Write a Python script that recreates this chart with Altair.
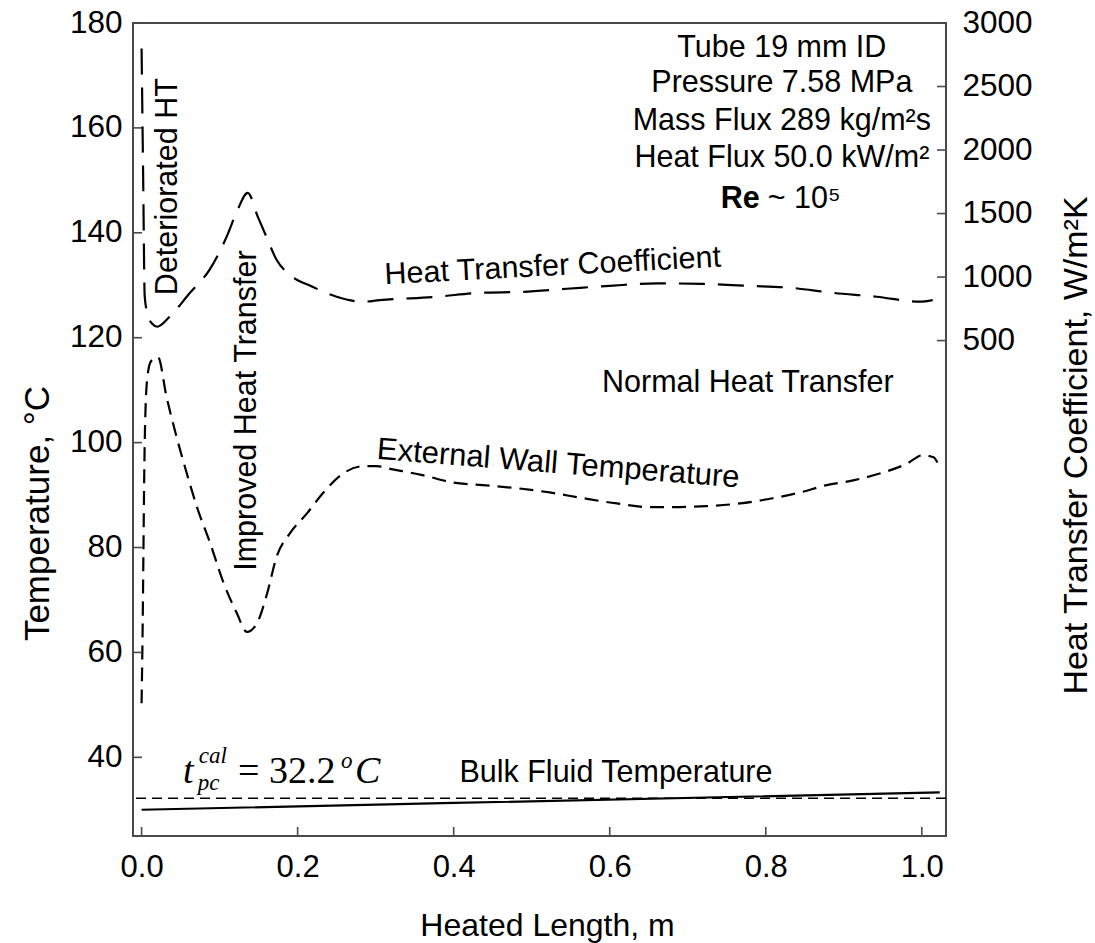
import altair as alt
import pandas as pd

# ---------------- data ----------------
# Heat transfer coefficient, W/m2K
htc_x = [0.000, 0.002, 0.004, 0.008, 0.014, 0.020, 0.036, 0.062, 0.087, 0.109,
         0.123, 0.136, 0.149, 0.160, 0.173, 0.190, 0.219, 0.250, 0.284, 0.305,
         0.378, 0.434, 0.489, 0.545, 0.600, 0.661, 0.719, 0.776, 0.831, 0.886,
         0.942, 0.997, 1.014]
htc_v = [2800, 1800, 850, 700, 630, 609, 688, 876, 1057, 1317,
         1529, 1663, 1474, 1317, 1136, 1018, 924, 845, 806, 818,
         845, 876, 884, 908, 931, 950, 947, 931, 916, 876,
         845, 806, 818]

# External wall temperature, C
wall_x = [0.000, 0.001, 0.004, 0.007, 0.012, 0.021, 0.032, 0.045, 0.058, 0.071,
          0.088, 0.104, 0.122, 0.135, 0.148, 0.161, 0.173, 0.190, 0.212, 0.232,
          0.258, 0.284, 0.301, 0.322, 0.360, 0.399, 0.437, 0.481, 0.523, 0.566,
          0.609, 0.651, 0.681, 0.724, 0.767, 0.809, 0.844, 0.878, 0.912, 0.946,
          0.981, 1.001, 1.015, 1.020]
wall_t = [50.3, 60.4, 99.9, 111.9, 115.5, 116.3, 108.7, 101.0, 94.1, 87.7,
          80.8, 73.7, 67.5, 63.9, 65.6, 71.3, 78.2, 82.7, 86.5, 90.3,
          94.1, 95.5, 95.5, 94.9, 93.8, 92.4, 91.9, 91.3, 90.5, 89.4,
          88.4, 87.7, 87.7, 87.9, 88.4, 89.4, 90.5, 91.9, 92.8, 94.1,
          96.0, 97.6, 97.2, 96.2]

# Bulk fluid temperature, C
bulk_x = [0.0, 0.4, 1.023]
bulk_t = [30.0, 31.3, 33.3]

# Pseudocritical temperature, C
t_pc = [32.2]

x_ticks = [0.0, 0.2, 0.4, 0.6, 0.8, 1.0]
t_ticks = [40, 60, 80, 100, 120, 140, 160, 180]
h_ticks = [500, 1000, 1500, 2000, 2500, 3000]

FONT = "Liberation Sans"
SERIF = "Liberation Serif"
W, H = 813, 813
FRAME = "#4a4a4a"

xscale = alt.Scale(domain=[-0.011, 1.031], nice=False, zero=False)
tscale = alt.Scale(domain=[25, 180], nice=False, zero=False)
hscale = alt.Scale(domain=[-3400, 3000], nice=False, zero=False)

x_axis = alt.Axis(values=x_ticks, format=".1f", tickSize=0, domain=False, grid=False,
                  labelFontSize=31, labelPadding=16, labelFont=FONT, labelColor="black",
                  title="Heated Length, m", titleFontSize=32, titleFontWeight="normal",
                  titleFont=FONT, titleColor="black", titleX=414, titleY=99,
                  titleBaseline="alphabetic", titleAlign="center")
t_axis = alt.Axis(values=t_ticks, orient="left", tickSize=0, domain=False, grid=False,
                  labelFontSize=31.5, labelPadding=11, labelFont=FONT, labelColor="black",
                  title="Temperature, °C", titleAngle=270, titleFontSize=35,
                  titleFontWeight="normal", titleFont=FONT, titleColor="black",
                  titleX=-96, titleY=490, titleBaseline="middle", titleAlign="center")
h_axis = alt.Axis(values=h_ticks, orient="right", format="d", tickSize=0, domain=False,
                  grid=False, labelFontSize=31.5, labelPadding=16, labelFont=FONT,
                  labelColor="black",
                  title="Heat Transfer Coefficient, W/m²K", titleAngle=270, titleFontSize=34,
                  titleFontWeight="normal", titleFont=FONT, titleColor="black",
                  titleX=130, titleY=422, titleBaseline="middle", titleAlign="center")


def X(field):
    return alt.X(field, type="quantitative", scale=xscale, axis=x_axis)


def T(field):
    return alt.Y(field, type="quantitative", scale=tscale, axis=t_axis)


def Hh(field):
    return alt.Y(field, type="quantitative", scale=hscale, axis=h_axis)


wall_df = pd.DataFrame({"x": wall_x, "t": wall_t})
bulk_df = pd.DataFrame({"x": bulk_x, "t": bulk_t})
htc_df = pd.DataFrame({"x": htc_x, "h": htc_v})

wall = alt.Chart(wall_df).mark_line(color="black", strokeWidth=2.2, strokeDash=[14, 8],
                                    interpolate="monotone").encode(x=X("x"), y=T("t"))
bulk = alt.Chart(bulk_df).mark_line(color="black", strokeWidth=2.2,
                                    interpolate="monotone").encode(x=X("x"), y=T("t"))
pc = alt.Chart(pd.DataFrame({"t": t_pc})).mark_rule(color="black", strokeWidth=1.3,
                                                    strokeDash=[10, 6]).encode(y=T("t"))

left_ticks = alt.Chart(pd.DataFrame({"v": t_ticks})).mark_rule(
    color=FRAME, strokeWidth=1.6).encode(y=T("v"), x=alt.value(0), x2=alt.value(9))
bottom_ticks = alt.Chart(pd.DataFrame({"v": x_ticks})).mark_rule(
    color=FRAME, strokeWidth=1.6).encode(x=X("v"), y=alt.value(H), y2=alt.value(H - 9))

# annotations: text, x, y(temperature units), angle, align, baseline, font, size, weight, style
ann = [
    ("Deteriorated HT", 0.0344, 148.8, 270, "center", "middle", FONT, 30.5, "normal", "normal"),
    ("Improved Heat Transfer", 0.1356, 106.1, 270, "center", "middle", FONT, 30.5, "normal", "normal"),
    ("Heat Transfer Coefficient", 0.527, 133.6, 357, "center", "middle", FONT, 30.5, "normal", "normal"),
    ("Normal Heat Transfer", 0.777, 111.3, 0, "center", "middle", FONT, 30.5, "normal", "normal"),
    ("External Wall Temperature", 0.534, 95.9, 4.5, "center", "middle", FONT, 31, "normal", "normal"),
    ("Bulk Fluid Temperature", 0.608, 37.1, 0, "center", "middle", FONT, 30.5, "normal", "normal"),
    ("Tube 19 mm ID", 0.8206, 173.46, 0, "center", "alphabetic", FONT, 30.5, "normal", "normal"),
    ("Pressure 7.58 MPa", 0.8206, 166.79, 0, "center", "alphabetic", FONT, 30.5, "normal", "normal"),
    ("Mass Flux 289 kg/m²s", 0.8206, 159.55, 0, "center", "alphabetic", FONT, 30.5, "normal", "normal"),
    ("Heat Flux 50.0 kW/m²", 0.8206, 152.5, 0, "center", "alphabetic", FONT, 30.5, "normal", "normal"),
    ("Re", 0.7924, 144.68, 0, "right", "alphabetic", FONT, 30.5, "bold", "normal"),
    ("~ 10⁵", 0.8026, 144.68, 0, "left", "alphabetic", FONT, 30.5, "normal", "normal"),
    ("t", 0.053, 35.04, 0, "left", "alphabetic", SERIF, 38, "normal", "italic"),
    ("cal", 0.0734, 38.85, 0, "left", "alphabetic", SERIF, 23, "normal", "italic"),
    ("pc", 0.072, 33.7, 0, "left", "alphabetic", SERIF, 23, "normal", "italic"),
    ("= 32.2", 0.1237, 35.04, 0, "left", "alphabetic", SERIF, 38, "normal", "normal"),
    ("o", 0.2555, 37.9, 0, "left", "alphabetic", SERIF, 23, "normal", "italic"),
    ("C", 0.2734, 35.04, 0, "left", "alphabetic", SERIF, 38, "normal", "italic"),
]

texts = []
for (txt, ax, ay, ang, al, bl, fnt, sz, wt, st) in ann:
    df = pd.DataFrame({"x": [ax], "t": [ay], "label": [txt]})
    texts.append(alt.Chart(df).mark_text(angle=ang, align=al, baseline=bl, font=fnt,
                                         fontSize=sz, fontWeight=wt, fontStyle=st,
                                         color="black").encode(
        x=X("x"), y=T("t"), text="label:N"))

temp_group = alt.layer(wall, bulk, pc, left_ticks, bottom_ticks, *texts)

htc = alt.Chart(htc_df).mark_line(color="black", strokeWidth=2.2, strokeDash=[26, 13],
                                  interpolate="monotone").encode(x=X("x"), y=Hh("h"))
right_ticks = alt.Chart(pd.DataFrame({"v": h_ticks})).mark_rule(
    color=FRAME, strokeWidth=1.6).encode(y=Hh("v"), x=alt.value(W), x2=alt.value(W - 9))
htc_group = alt.layer(htc, right_ticks)

chart = alt.layer(temp_group, htc_group).resolve_scale(y="independent").properties(
    width=W, height=H,
    autosize=alt.AutoSizeParams(type="none"),
    padding={"left": 133, "top": 23, "right": 149, "bottom": 107},
    background="white",
).configure_view(stroke=FRAME, strokeWidth=2)

chart.save("out.html", embed_options={"renderer": "svg", "actions": False})
